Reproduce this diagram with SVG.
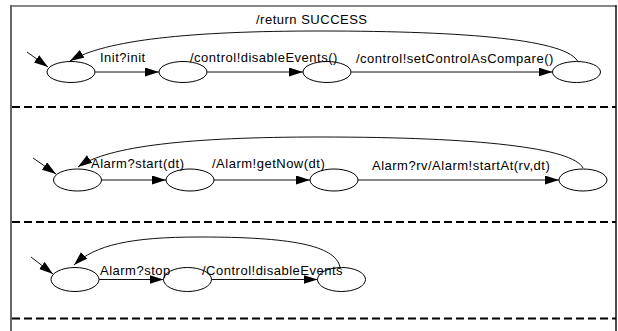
<svg xmlns="http://www.w3.org/2000/svg" width="618" height="331" viewBox="0 0 618 331">
<style>
.st{fill:#fff;stroke:#000;stroke-width:1}
.ed{fill:none;stroke:#111;stroke-width:1}
.lb{font-family:"Liberation Sans",Arial,sans-serif;font-size:13px;letter-spacing:0.5px;fill:#000}
.dash{stroke:#000;stroke-width:2;stroke-dasharray:8 4}
</style>
<defs>
<marker id="ah" markerUnits="userSpaceOnUse" markerWidth="15" markerHeight="10" refX="14" refY="4.5" orient="auto">
<path d="M0,0 L14,4.5 L0,9 z" fill="#000"/>
</marker>
</defs>
<g id="frame">
<line x1="10" y1="6" x2="616" y2="6" stroke="#888" stroke-width="2"/>
<line x1="11" y1="5" x2="11" y2="331" stroke="#666" stroke-width="2"/>
<line x1="616" y1="5" x2="616" y2="331" stroke="#111" stroke-width="1.5"/>
<line class="dash" x1="12" y1="107" x2="616" y2="107"/>
<line class="dash" x1="12" y1="222" x2="616" y2="222"/>
<line class="dash" x1="12" y1="318.5" x2="616" y2="318.5"/>
</g>
<g id="connectors">
<line class="ed" x1="27" y1="52" x2="48" y2="67" marker-end="url(#ah)"/>
<line class="ed" x1="95" y1="72" x2="159" y2="72" marker-end="url(#ah)"/>
<line class="ed" x1="207" y1="72" x2="303" y2="72" marker-end="url(#ah)"/>
<line class="ed" x1="351" y1="72" x2="552.5" y2="72" marker-end="url(#ah)"/>
<path class="ed" d="M578,62 C568,40 470,31 320,31 C190,31 105,40 70,61" marker-end="url(#ah)"/>
<line class="ed" x1="33" y1="158" x2="56" y2="174" marker-end="url(#ah)"/>
<line class="ed" x1="101.5" y1="180" x2="166" y2="180" marker-end="url(#ah)"/>
<line class="ed" x1="214" y1="180" x2="310" y2="180" marker-end="url(#ah)"/>
<line class="ed" x1="358" y1="180" x2="559" y2="180" marker-end="url(#ah)"/>
<path class="ed" d="M583,168 C573,148 480,137 320,137 C190,137 108,146 78,167" marker-end="url(#ah)"/>
<line class="ed" x1="31" y1="257" x2="53" y2="274" marker-end="url(#ah)"/>
<line class="ed" x1="99" y1="279.5" x2="163.5" y2="279.5" marker-end="url(#ah)"/>
<line class="ed" x1="211.5" y1="279.5" x2="317.5" y2="279.5" marker-end="url(#ah)"/>
<path class="ed" d="M340,267 C335,245 290,237 200,237 C130,237 95,245 74,265" marker-end="url(#ah)"/>
</g>
<g id="r1s1"><ellipse class="st" cx="71" cy="72" rx="24" ry="10.5"/></g>
<g id="r1s2"><ellipse class="st" cx="183" cy="72" rx="24" ry="10.5"/></g>
<g id="r1s3"><ellipse class="st" cx="327" cy="72" rx="24" ry="10.5"/></g>
<g id="r1s4"><ellipse class="st" cx="576.5" cy="72" rx="24" ry="10.5"/></g>
<g id="r2s1"><ellipse class="st" cx="77.5" cy="180" rx="24" ry="11"/></g>
<g id="r2s2"><ellipse class="st" cx="190" cy="180" rx="24" ry="11"/></g>
<g id="r2s3"><ellipse class="st" cx="334" cy="180" rx="24" ry="11"/></g>
<g id="r2s4"><ellipse class="st" cx="583" cy="180" rx="24" ry="11"/></g>
<g id="r3s1"><ellipse class="st" cx="75" cy="279.5" rx="24" ry="12"/></g>
<g id="r3s2"><ellipse class="st" cx="187.5" cy="279.5" rx="24" ry="12"/></g>
<g id="r3s3"><ellipse class="st" cx="341.5" cy="279.5" rx="24" ry="12"/></g>
<g id="labels">
<text class="lb" x="100" y="62">Init?init</text>
<text class="lb" x="190" y="62">/control!disableEvents()</text>
<text class="lb" x="356" y="63">/control!setControlAsCompare()</text>
<text class="lb" x="256" y="24">/return SUCCESS</text>
<text class="lb" x="91" y="168">Alarm?start(dt)</text>
<text class="lb" x="212" y="168">/Alarm!getNow(dt)</text>
<text class="lb" x="372" y="170">Alarm?rv/Alarm!startAt(rv,dt)</text>
<text class="lb" x="100" y="275">Alarm?stop</text>
<text class="lb" x="202" y="275">/Control!disableEvents</text>
</g>
</svg>
